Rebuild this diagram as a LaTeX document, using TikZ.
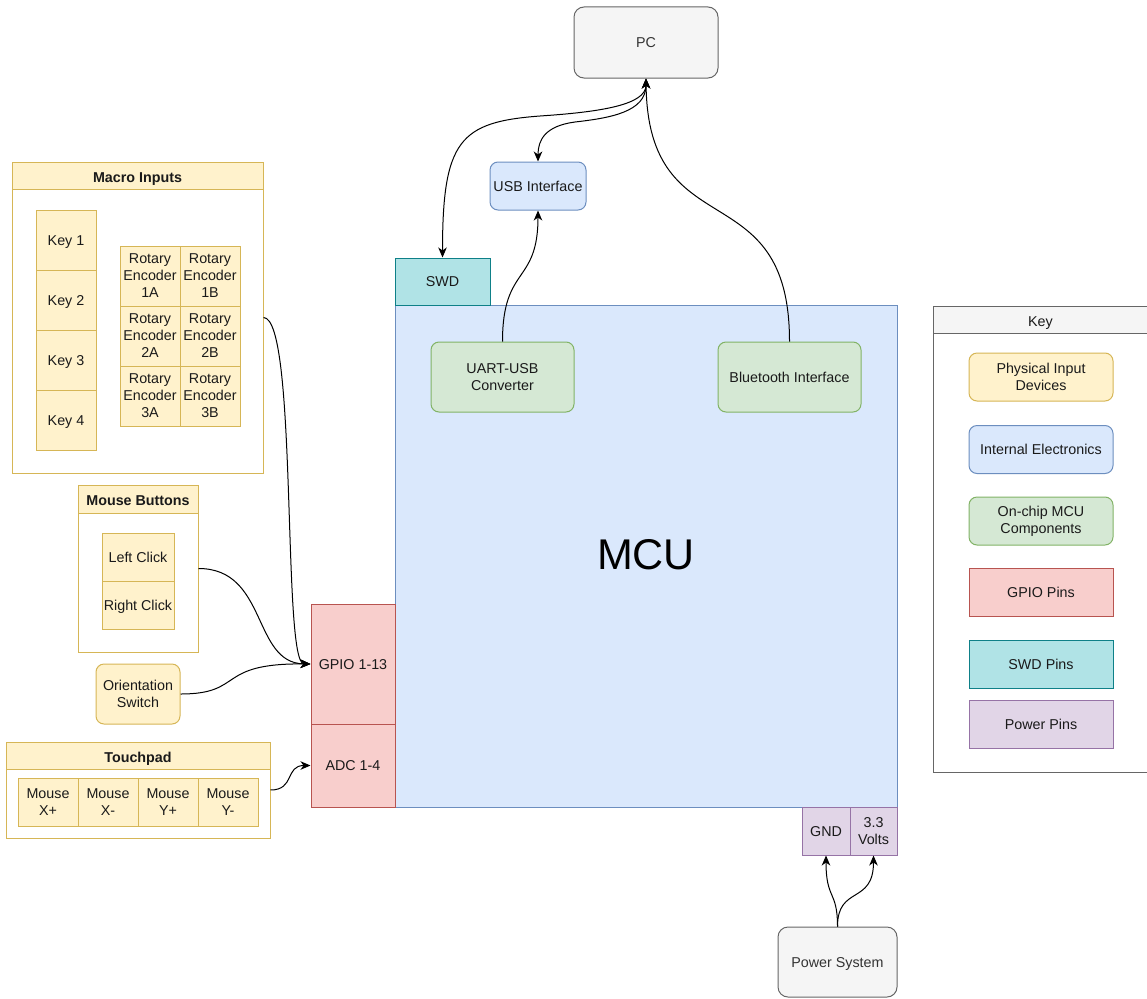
\documentclass[tikz,border=0pt]{standalone}
\usepackage{fontspec}
\setmainfont{Liberation Sans}
\usetikzlibrary{arrows.meta}
\definecolor{yF}{HTML}{FFF2CC}\definecolor{yS}{HTML}{D6B656}
\definecolor{bF}{HTML}{DAE8FC}\definecolor{bS}{HTML}{6C8EBF}
\definecolor{gF}{HTML}{D5E8D4}\definecolor{gS}{HTML}{82B366}
\definecolor{rF}{HTML}{F8CECC}\definecolor{rS}{HTML}{B85450}
\definecolor{tF}{HTML}{B0E3E6}\definecolor{tS}{HTML}{0E8088}
\definecolor{pF}{HTML}{E1D5E7}\definecolor{pS}{HTML}{9673A6}
\definecolor{kF}{HTML}{F5F5F5}\definecolor{kS}{HTML}{666666}
\definecolor{txt}{HTML}{1A1A1A}\definecolor{txg}{HTML}{333333}
\newcommand\fsn{\fontsize{14.3}{17}\selectfont}
\newcommand\fsb{\fontsize{14.3}{17}\selectfont\bfseries}
\begin{document}
\begin{tikzpicture}[x=1pt,y=-1pt,
  box/.style={draw, line width=1pt, inner sep=0pt, align=center, font=\fsn, text=txt},
  sz/.style 2 args={minimum width=#1pt, minimum height=#2pt},
  one/.style={text height=13pt, text depth=3pt},
  rnd/.style={rounded corners=8pt},
  yel/.style={box, fill=yF, draw=yS},
  blu/.style={box, fill=bF, draw=bS},
  grn/.style={box, fill=gF, draw=gS},
  red/.style={box, fill=rF, draw=rS},
  tea/.style={box, fill=tF, draw=tS},
  pur/.style={box, fill=pF, draw=pS},
  gry/.style={box, fill=kF, draw=kS, text=txg},
  cont/.style={box, fill=white},
  hdr/.style={box, font=\fsb, text height=14.5pt, text depth=1.3pt},
  conn/.style={line width=1pt, draw=black},
  tip/.style={-{Stealth[length=10pt,width=8.5pt,inset=3pt]}},
  tips/.style={{Stealth[length=10pt,width=8.5pt,inset=3pt]}-{Stealth[length=10pt,width=8.5pt,inset=3pt]}}
]
\useasboundingbox (0,0) rectangle (1147,998);

% PC, USB
\node[gry, one, rounded corners=10pt, sz={144}{71}] (pc) at (646,42.5) {PC};
\node[blu, one, rnd, sz={96}{48}] (usb) at (538,186) {USB Interface};

% MCU and pins
\node[blu, sz={502}{502}] (mcu) at (646,556) {};
\node[font=\fontsize{43}{50}\selectfont, text=black] (mcut) at (646,555) {MCU};
\node[tea, one, sz={95}{47}] (swd) at (442.5,281.5) {SWD};
\node[red, one, sz={84}{120}] (gpio) at (353,664) {GPIO 1-13};
\node[red, one, sz={84}{83}] (adc) at (353,765.5) {ADC 1-4};
\node[pur, one, sz={48}{48}] (gnd) at (826,831) {GND};
\node[pur, sz={47}{48}] (v33) at (873.5,831) {3.3\\Volts};
\node[grn, rnd, sz={143}{70}] (uart) at (502.5,377) {UART-USB\\Converter};
\node[grn, one, rnd, sz={143}{70}] (bt) at (789.5,377) {Bluetooth Interface};
\node[gry, one, rounded corners=10pt, sz={119}{70}] (pwr) at (837.5,962) {Power System};

% Macro inputs
\node[cont, draw=yS, sz={251}{311}] (mi) at (137.5,317.5) {};
\node[hdr, fill=yF, draw=yS, sz={251}{27}] (mih) at (137.5,175.5) {Macro Inputs};
\node[yel, one, sz={60}{60}] (k1) at (66,240) {Key 1};
\node[yel, one, sz={60}{60}] (k2) at (66,300) {Key 2};
\node[yel, one, sz={60}{60}] (k3) at (66,360) {Key 3};
\node[yel, one, sz={60}{60}] (k4) at (66,420) {Key 4};
\node[yel, sz={60}{60}] (r1a) at (150,276) {Rotary\\Encoder\\1A};
\node[yel, sz={60}{60}] (r1b) at (210,276) {Rotary\\Encoder\\1B};
\node[yel, sz={60}{60}] (r2a) at (150,336) {Rotary\\Encoder\\2A};
\node[yel, sz={60}{60}] (r2b) at (210,336) {Rotary\\Encoder\\2B};
\node[yel, sz={60}{60}] (r3a) at (150,396) {Rotary\\Encoder\\3A};
\node[yel, sz={60}{60}] (r3b) at (210,396) {Rotary\\Encoder\\3B};

% Mouse buttons
\node[cont, draw=yS, sz={120}{167}] (mb) at (138,568.5) {};
\node[hdr, fill=yF, draw=yS, sz={120}{28}] (mbh) at (138,499) {Mouse Buttons};
\node[yel, one, sz={72}{48}] (lc) at (138,557) {Left Click};
\node[yel, one, sz={72}{48}] (rc) at (138,605) {Right Click};

% Orientation switch
\node[yel, rnd, sz={84}{60}] (os) at (138,694) {Orientation\\Switch};

% Touchpad
\node[cont, draw=yS, sz={264}{96}] (tp) at (138,790) {};
\node[hdr, fill=yF, draw=yS, sz={264}{27}] (tph) at (138,755.5) {Touchpad};
\node[yel, sz={60}{48}] (mxp) at (48,802) {Mouse\\X+};
\node[yel, sz={60}{48}] (mxm) at (108,802) {Mouse\\X-};
\node[yel, sz={60}{48}] (myp) at (168,802) {Mouse\\Y+};
\node[yel, sz={60}{48}] (mym) at (228,802) {Mouse\\Y-};

% Key legend
\node[cont, draw=kS, sz={214}{466}] (key) at (1040.5,539) {};
\node[box, fill=kF, draw=kS, sz={214}{27}, text height=14.5pt, text depth=1.3pt] (keyh) at (1040.5,319.5) {Key};
\node[yel, rnd, sz={144}{48}] (l1) at (1041,377) {Physical Input\\Devices};
\node[blu, one, rnd, sz={144}{48}] (l2) at (1041,449.5) {Internal Electronics};
\node[grn, rnd, sz={144}{48}] (l3) at (1041,521) {On-chip MCU\\Components};
\node[red, one, sz={144}{48}] (l4) at (1041,592.5) {GPIO Pins};
\node[tea, one, sz={144}{48}] (l5) at (1041,664) {SWD Pins};
\node[pur, one, sz={144}{48}] (l6) at (1041,724) {Power Pins};

% Connectors
\draw[conn, tips] (pc.south) .. controls (646,105) and (600,112) .. (540,116)
   .. controls (460,122) and (442.5,140) .. (swd.north);
\draw[conn, tips] (pc.south) .. controls (646,112) and (610,118) .. (575,122)
   .. controls (545,126) and (538,140) .. (usb.north);
\draw[conn, tip] (uart.north) .. controls (502.5,265) and (538,285) .. (usb.south);
\draw[conn, tip] (bt.north) .. controls (789.5,170) and (648,250) .. (pc.south);
\draw[conn, tip] (mi.east) .. controls (298,318) and (282,663) .. (gpio.west);
\draw[conn, tip] (mb.east) .. controls (268,568.5) and (252,663) .. (gpio.west);
\draw[conn, tip] (os.east) .. controls (245,694) and (215,663) .. (gpio.west);
\draw[conn, tip] (tp.east) .. controls (295,790) and (285,765.5) .. (adc.west);
\draw[conn, tip] (pwr.north) .. controls (837.5,890) and (826,900) .. (gnd.south);
\draw[conn, tip] (pwr.north) .. controls (837.5,885) and (873.5,905) .. (v33.south);
\end{tikzpicture}
\end{document}
